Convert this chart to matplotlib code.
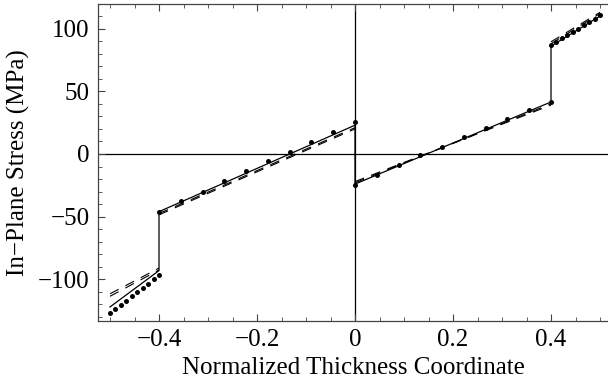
import numpy as np
import matplotlib
matplotlib.use("Agg")
import matplotlib.pyplot as plt
from matplotlib.ticker import MultipleLocator

# layer boundaries through the thickness
layers = [(-0.5, -0.4), (-0.4, 0.0), (0.0, 0.4), (0.4, 0.5)]

# solid curve: stress at bottom / top of each layer (MPa)
solid_bot = [-122.0, -46.0, -24.0, 86.0]
solid_top = [-93.0, 23.0, 41.5, 110.0]

# two dashed curves
dash1_bot = [-113.5, -47.5, -23.0, 88.0]
dash1_top = [-92.5, 21.0, 40.0, 112.0]
dash2_bot = [-111.5, -48.5, -22.0, 89.5]
dash2_top = [-91.0, 20.0, 39.0, 113.0]

# dots: 10 points per layer
dots_y = [
    [-127.1, -123.7, -120.3, -116.9, -113.5, -110.1, -106.7, -103.3, -99.9, -96.5],
    [-46.5, -37.5, -30.1, -21.5, -13.6, -5.6, 1.8, 9.8, 17.3, 25.3],
    [-24.7, -16.8, -8.8, -0.8, 5.9, 13.3, 20.5, 27.9, 35.1, 41.7],
    [87.0, 89.6, 92.2, 94.8, 97.4, 100.0, 102.6, 105.2, 107.8, 110.5],
]

plt.rcParams['font.family'] = ['Liberation Serif', 'DejaVu Serif']
plt.rcParams['lines.scale_dashes'] = False

fig = plt.figure(figsize=(6.08, 3.85), dpi=100)
ax = fig.add_axes([98 / 608, 1 - 321 / 385, 1 - 98 / 608, (321 - 4.3) / 385])

ax.axhline(0, color='black', lw=0.9, zorder=1)
ax.axvline(0, color='black', lw=0.9, zorder=1)

# solid curve, joined with vertical jumps at interfaces
sx, sy = [], []
for (a, b), y0, y1 in zip(layers, solid_bot, solid_top):
    sx += [a, b]
    sy += [y0, y1]
ax.plot(sx, sy, color='black', lw=0.9, zorder=3)

for bot, top in [(dash1_bot, dash1_top), (dash2_bot, dash2_top)]:
    for (a, b), y0, y1 in zip(layers, bot, top):
        ax.plot([a, b], [y0, y1], color='black', lw=0.8,
                linestyle=(0, (7.0, 5.5)), zorder=2)

for (a, b), ys in zip(layers, dots_y):
    xs = np.linspace(a, b, len(ys))
    ax.plot(xs, ys, 'o', color='black', ms=3.6, mec='none', zorder=4)

ax.set_xlim(-0.5245, 0.5163)
ax.set_ylim(-133.2, 119.4)

ax.xaxis.set_major_locator(MultipleLocator(0.2))
ax.xaxis.set_minor_locator(MultipleLocator(0.05))
ax.yaxis.set_major_locator(MultipleLocator(50))
ax.yaxis.set_minor_locator(MultipleLocator(10))
ax.set_xticks([-0.4, -0.2, 0, 0.2, 0.4])
ax.set_xticklabels(['\u22120.4', '\u22120.2', '0', '0.2', '0.4'])
ax.set_yticks([-100, -50, 0, 50, 100])
ax.set_yticklabels(['\u2212100', '\u221250', '0', '50', '100'])

ax.tick_params(which='both', direction='in', top=True, right=False,
               color='#444444', labelsize=18, pad=6)
ax.tick_params(which='major', length=5, width=0.8)
ax.tick_params(which='minor', length=3, width=0.6)

for side in ['left', 'top', 'bottom']:
    ax.spines[side].set_color('#444444')
    ax.spines[side].set_linewidth(0.9)
ax.spines['right'].set_visible(False)

ax.set_xlabel('Normalized Thickness Coordinate', fontsize=18, labelpad=4)
ax.set_ylabel('In\u2212Plane Stress (MPa)', fontsize=18, labelpad=6)

fig.savefig('out.png', dpi=100)
